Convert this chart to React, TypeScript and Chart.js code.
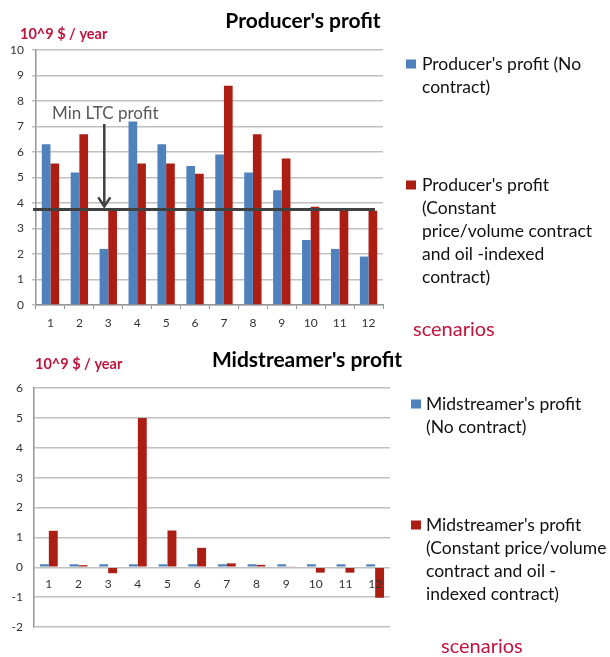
import React, { useEffect, useRef } from "react";
import { Chart, registerables } from "chart.js";
Chart.register(...registerables);

const scenarios = ["1", "2", "3", "4", "5", "6", "7", "8", "9", "10", "11", "12"];
const producerNoContract = [6.3, 5.2, 2.2, 7.2, 6.3, 5.45, 5.9, 5.2, 4.5, 2.55, 2.2, 1.9];
const producerContract = [5.55, 6.7, 3.75, 5.55, 5.55, 5.15, 8.6, 6.7, 5.75, 3.85, 3.7, 3.7];
const midNoContract = [0.1, 0.1, 0.1, 0.1, 0.1, 0.1, 0.1, 0.1, 0.1, 0.1, 0.1, 0.1];
const midContract = [1.22, 0.07, -0.2, 5.0, 1.23, 0.65, 0.13, 0.08, 0.03, -0.18, -0.18, -1.02];
const minLtcProfit = 3.75;
const minLtcScenarioIndex = 2;

const producerTitle = "Producer's profit";
const midTitle = "Midstreamer's profit";
const unitLabel = "10^9 $ / year";
const xAxisLabel = "scenarios";
const annotationText = "Min LTC profit";
const producerLegend = [
  ["Producer's profit (No", "contract)"],
  ["Producer's profit", "(Constant", "price/volume contract", "and oil -indexed", "contract)"],
];
const midLegend = [
  ["Midstreamer's profit", "(No contract)"],
  ["Midstreamer's profit", "(Constant price/volume", "contract and oil -", "indexed contract)"],
];

const BLUE = "#4F81BD";
const RED = "#AC1E14";
const ACCENT = "#C0143C";
const GRID = "#C0C0C0";
const AXIS = "#969696";
const FONT = "Lato, 'Open Sans', sans-serif";

type Layout = {
  title: string;
  titleX: number;
  titleY: number;
  unitX: number;
  unitY: number;
  legend: string[][];
  legendSqX: number;
  legendTextX: number;
  legendY: number[];
  scenX: number;
  scenY: number;
  annotate: boolean;
};

function overlayPlugin(l: Layout) {
  return {
    id: "overlay",
    afterDatasetsDraw(chart: any) {
      const ctx = chart.ctx as CanvasRenderingContext2D;
      if (!l.annotate) return;
      const y = chart.scales.y.getPixelForValue(minLtcProfit);
      const area = chart.chartArea;
      ctx.save();
      ctx.strokeStyle = "#404040";
      ctx.lineWidth = 3;
      ctx.beginPath();
      ctx.moveTo(area.left - 3, y);
      ctx.lineTo(area.right - 8, y);
      ctx.stroke();
      const ax = chart.scales.x.getPixelForValue(minLtcScenarioIndex) - 4;
      ctx.lineWidth = 2.5;
      ctx.beginPath();
      ctx.moveTo(ax, 124);
      ctx.lineTo(ax, y - 3);
      ctx.stroke();
      ctx.beginPath();
      ctx.moveTo(ax - 6, y - 12);
      ctx.lineTo(ax, y - 3);
      ctx.lineTo(ax + 6, y - 12);
      ctx.stroke();
      ctx.fillStyle = "#595959";
      ctx.font = `17px ${FONT}`;
      ctx.textAlign = "center";
      ctx.textBaseline = "middle";
      ctx.fillText(annotationText, ax + 1, 114);
      ctx.restore();
    },
    afterDraw(chart: any) {
      const ctx = chart.ctx as CanvasRenderingContext2D;
      ctx.save();
      ctx.textBaseline = "middle";
      ctx.fillStyle = "#000";
      ctx.font = `bold 21px ${FONT}`;
      ctx.textAlign = "center";
      ctx.fillText(l.title, l.titleX, l.titleY);
      ctx.fillStyle = ACCENT;
      ctx.font = `bold 14.5px ${FONT}`;
      ctx.textAlign = "left";
      ctx.fillText(unitLabel, l.unitX, l.unitY);
      const colors = [BLUE, RED];
      ctx.font = `17.5px ${FONT}`;
      l.legend.forEach((lines, i) => {
        const y0 = l.legendY[i];
        ctx.fillStyle = colors[i];
        ctx.fillRect(l.legendSqX, y0 - 4.5, 10, 9);
        ctx.fillStyle = "#111";
        lines.forEach((t, k) => ctx.fillText(t, l.legendTextX, y0 + k * 23));
      });
      ctx.fillStyle = ACCENT;
      ctx.font = `20px ${FONT}`;
      ctx.fillText(xAxisLabel, l.scenX, l.scenY);
      ctx.restore();
    },
  };
}

const tickFont = { family: FONT, size: 12 };

function ProducerChart() {
  const ref = useRef<HTMLCanvasElement>(null);
  useEffect(() => {
    const chart = new Chart(ref.current!, {
      type: "bar",
      data: {
        labels: scenarios,
        datasets: [
          { label: producerLegend[0].join(" "), data: producerNoContract, backgroundColor: BLUE, categoryPercentage: 0.6, barPercentage: 1 },
          { label: producerLegend[1].join(" "), data: producerContract, backgroundColor: RED, categoryPercentage: 0.6, barPercentage: 1 },
        ],
      },
      options: {
        responsive: false,
        animation: false,
        layout: { padding: { top: 50, right: 227, left: 0, bottom: 0 } },
        plugins: { legend: { display: false }, tooltip: { enabled: false }, title: { display: false } },
        scales: {
          x: {
            grid: { display: true, drawOnChartArea: false, drawTicks: true, tickLength: 4, color: AXIS, offset: true },
            border: { color: AXIS, width: 1.5 },
            ticks: { font: tickFont, color: "#333", padding: 7 },
            afterFit: (s: any) => { s.height = 35; },
          },
          y: {
            min: 0,
            max: 10,
            ticks: { stepSize: 1, font: tickFont, color: "#333", padding: 8 },
            grid: { color: GRID, lineWidth: 1.5, tickLength: 4 },
            border: { color: AXIS, width: 1.5 },
            afterFit: (s: any) => { s.width = 36; },
          },
        },
      } as any,
      plugins: [
        overlayPlugin({
          title: producerTitle, titleX: 303, titleY: 21, unitX: 20, unitY: 34,
          legend: producerLegend, legendSqX: 406, legendTextX: 422, legendY: [64, 185],
          scenX: 413, scenY: 330, annotate: true,
        }),
      ],
    });
    return () => chart.destroy();
  }, []);
  return <canvas ref={ref} width={610} height={340} style={{ display: "block" }} />;
}

function MidChart() {
  const ref = useRef<HTMLCanvasElement>(null);
  useEffect(() => {
    const chart = new Chart(ref.current!, {
      type: "bar",
      data: {
        labels: scenarios,
        datasets: [
          { label: midLegend[0].join(" "), data: midNoContract, backgroundColor: BLUE, categoryPercentage: 0.6, barPercentage: 1 },
          { label: midLegend[1].join(" "), data: midContract, backgroundColor: RED, categoryPercentage: 0.6, barPercentage: 1 },
        ],
      },
      options: {
        responsive: false,
        animation: false,
        layout: { padding: { top: 48, right: 220, left: 0, bottom: 30 } },
        plugins: { legend: { display: false }, tooltip: { enabled: false }, title: { display: false } },
        scales: {
          x: {
            position: { y: 0 },
            grid: { display: false, drawTicks: false },
            border: { display: false },
            ticks: { font: tickFont, color: "#333", padding: 10, z: 1 },
          },
          y: {
            min: -2,
            max: 6,
            ticks: { stepSize: 1, font: tickFont, color: "#333", padding: 11 },
            grid: { color: GRID, lineWidth: 1.5, drawTicks: false },
            border: { color: AXIS, width: 1.5 },
            afterFit: (s: any) => { s.width = 34; },
          },
        },
      } as any,
      plugins: [
        overlayPlugin({
          title: midTitle, titleX: 307, titleY: 20, unitX: 35, unitY: 24,
          legend: midLegend, legendSqX: 411, legendTextX: 426, legendY: [64, 185],
          scenX: 441, scenY: 307, annotate: false,
        }),
      ],
    });
    return () => chart.destroy();
  }, []);
  return <canvas ref={ref} width={610} height={317} style={{ display: "block" }} />;
}

export default function App() {
  return (
    <div style={{ position: "absolute", left: 0, top: 0, width: 610, height: 657, background: "#fff" }}>
      <ProducerChart />
      <MidChart />
    </div>
  );
}
